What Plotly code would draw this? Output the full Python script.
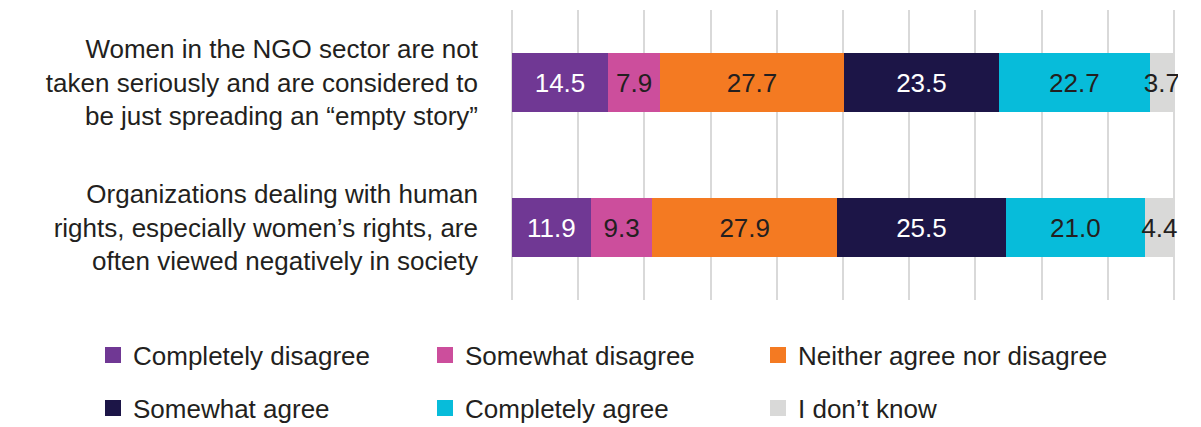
import plotly.graph_objects as go

# categories, top to bottom
categories = [
    "Women in the NGO sector are not<br>taken seriously and are considered to<br>be just spreading an \u201cempty story\u201d",
    "Organizations dealing with human<br>rights, especially women\u2019s rights, are<br>often viewed negatively in society",
]

series = ["Completely disagree", "Somewhat disagree", "Neither agree nor disagree",
          "Somewhat agree", "Completely agree", "I don\u2019t know"]

completely_disagree = [14.5, 11.9]
somewhat_disagree = [7.9, 9.3]
neither = [27.7, 27.9]
somewhat_agree = [23.5, 25.5]
completely_agree = [22.7, 21.0]
dont_know = [3.7, 4.4]

values = [completely_disagree, somewhat_disagree, neither, somewhat_agree, completely_agree, dont_know]
colors = ["#703894", "#CC4E9C", "#F47A22", "#1C1547", "#07BCDA", "#D9D9D8"]
text_colors = ["#FFFFFF", "#231F20", "#231F20", "#FFFFFF", "#231F20", "#231F20"]

FONT = "Arial, Liberation Sans, sans-serif"
TXT = "#231F20"

# the page puts the figure 8px in from the top-left corner
W, H = 1193, 419

fig = go.Figure()

for name, vals, col, tcol in zip(series, values, colors, text_colors):
    fig.add_trace(go.Bar(
        y=categories, x=vals, orientation="h", name=name,
        marker=dict(color=col, line=dict(width=0)),
        text=[f"{v:.1f}" for v in vals], textposition="inside",
        insidetextanchor="middle", textangle=0, constraintext="none",
        textfont=dict(family=FONT, size=26, color=tcol),
        showlegend=False, hoverinfo="skip",
    ))

# one legend per entry: 3 columns x 2 rows
col_x = [85, 417, 750]
row_y = [347, 400]
legends = {}
for i, (name, col) in enumerate(zip(series, colors)):
    key = "legend" if i == 0 else f"legend{i + 1}"
    fig.add_trace(go.Scatter(
        x=[None], y=[None], mode="markers", name=name,
        marker=dict(symbol="square", size=16, color=col),
        legend=key,
    ))
    legends[key] = dict(
        xref="container", yref="container",
        xanchor="left", yanchor="middle",
        x=col_x[i % 3] / W, y=1 - row_y[i // 3] / H,
        font=dict(family=FONT, size=26, color=TXT),
        itemsizing="trace", bgcolor="rgba(0,0,0,0)",
    )

fig.update_layout(
    width=W, height=H,
    barmode="stack", bargap=0.59,
    plot_bgcolor="white", paper_bgcolor="white",
    margin=dict(l=500, r=23, t=2, b=127, autoexpand=False),
    font=dict(family=FONT, size=26, color=TXT),
    **legends,
)

# a little padding so the 0 and 100 gridlines are not clipped
fig.update_xaxes(
    range=[-0.6, 100.6], tick0=0, dtick=10, showticklabels=False,
    showgrid=True, gridcolor="#D9D9D9", gridwidth=2,
    zeroline=False, showline=False, fixedrange=True,
)
fig.update_yaxes(
    autorange="reversed", showgrid=False, zeroline=False, showline=False,
    ticklabelstandoff=29, tickfont=dict(family=FONT, size=26, color=TXT),
    fixedrange=True,
)

fig.write_html("out.html")
